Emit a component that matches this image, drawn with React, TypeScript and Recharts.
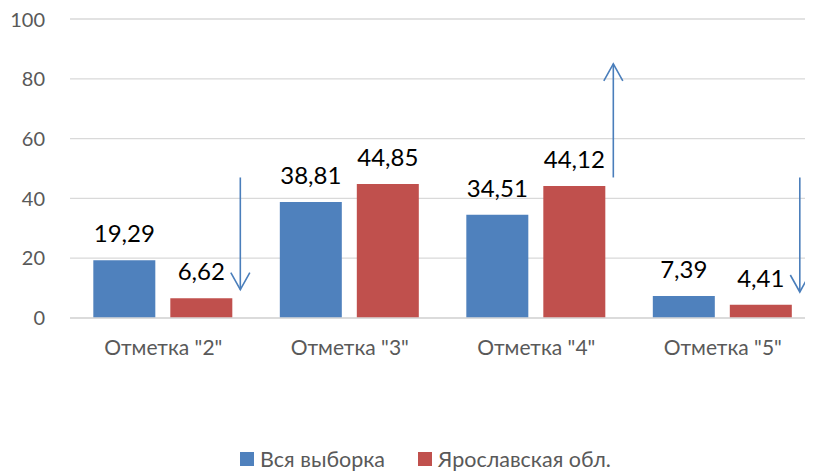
import React from 'react';
import { BarChart, Bar, XAxis, YAxis, CartesianGrid, Legend, LabelList } from 'recharts';

const categories = ['Отметка "2"', 'Отметка "3"', 'Отметка "4"', 'Отметка "5"'];
const allSample = [19.29, 38.81, 34.51, 7.39];
const yaroslavl = [6.62, 44.85, 44.12, 4.41];
const arrowFrom: (number | null)[] = [47, null, 47, 47];
const arrowTo: (number | null)[] = [9.5, null, 85, 8.7];
const yTicks = [0, 20, 40, 60, 80, 100];
const seriesNames = ['Вся выборка', 'Ярославская обл.'];

const BLUE = '#4f81bd';
const RED = '#c0504d';
const ARROW = '#4a7ebb';
const FONT = "Lato, 'Open Sans', 'Noto Sans', sans-serif";

const data = categories.map((c, i) => ({ cat: c, a: allSample[i], b: yaroslavl[i] }));

const fmt = (v: number) => v.toFixed(2).replace('.', ',');

const ValueLabel = (props: any) => {
  const { x, y, width, value } = props;
  return (
    <text x={x + width / 2} y={y - 18} textAnchor="middle" fill="#000" fontSize={24} fontFamily={FONT}>
      {fmt(Number(value))}
    </text>
  );
};

const RedLabel = (props: any) => {
  const { x, y, width, height, value, index } = props;
  const from = arrowFrom[index];
  const to = arrowTo[index];
  let arrow = null;
  if (from != null && to != null && value) {
    const ppu = height / value;
    const bottom = y + height;
    const ax = x + width + 8;
    const y1 = bottom - from * ppu;
    const y2 = bottom - to * ppu;
    const dir = y2 > y1 ? 1 : -1;
    arrow = (
      <g stroke={ARROW} strokeWidth={1.6} fill="none">
        <line x1={ax} y1={y1} x2={ax} y2={y2} />
        <polyline points={`${ax - 9.5},${y2 - dir * 17} ${ax},${y2} ${ax + 9.5},${y2 - dir * 17}`} />
      </g>
    );
  }
  return (
    <g>
      <text x={x + width / 2} y={y - 18} textAnchor="middle" fill="#000" fontSize={24} fontFamily={FONT}>
        {fmt(Number(value))}
      </text>
      {arrow}
    </g>
  );
};

const LegendContent = () => (
  <div style={{ display: 'flex', justifyContent: 'center', paddingLeft: 27, paddingTop: 3, fontFamily: FONT, fontSize: 21.5, color: '#595959', lineHeight: '22px' }}>
    {[BLUE, RED].map((c, i) => (
      <div key={i} style={{ display: 'flex', alignItems: 'center', marginRight: i === 0 ? 33 : 0 }}>
        <span style={{ width: 14, height: 14, background: c, display: 'inline-block', marginRight: 6 }} />
        <span>{seriesNames[i]}</span>
      </div>
    ))}
  </div>
);

export default function App() {
  return (
    <div style={{ width: 805, height: 467, overflow: 'hidden' }}>
      <BarChart
        width={815}
        height={467}
        data={data}
        margin={{ top: 11, right: 7, bottom: 0, left: 0 }}
        barCategoryGap="12.5%"
        barGap={15}
      >
        <CartesianGrid vertical={false} stroke="#d9d9d9" strokeWidth={1.3} />
        <XAxis
          dataKey="cat"
          axisLine={{ stroke: '#d9d9d9', strokeWidth: 1.3 }}
          tickLine={false}
          tickSize={0}
          tickMargin={22}
          height={127}
          tick={{ fill: '#595959', fontSize: 21, fontFamily: FONT }}
        />
        <YAxis
          domain={[0, 100]}
          ticks={yTicks}
          axisLine={false}
          tickLine={false}
          tickSize={0}
          tickMargin={25}
          width={62}
          tick={{ fill: '#595959', fontSize: 20, fontFamily: FONT }}
        />
        <Legend verticalAlign="bottom" height={30} content={<LegendContent />} />
        <Bar dataKey="a" name={seriesNames[0]} fill={BLUE} isAnimationActive={false}>
          <LabelList dataKey="a" content={<ValueLabel />} />
        </Bar>
        <Bar dataKey="b" name={seriesNames[1]} fill={RED} isAnimationActive={false}>
          <LabelList dataKey="b" content={<RedLabel />} />
        </Bar>
      </BarChart>
    </div>
  );
}
